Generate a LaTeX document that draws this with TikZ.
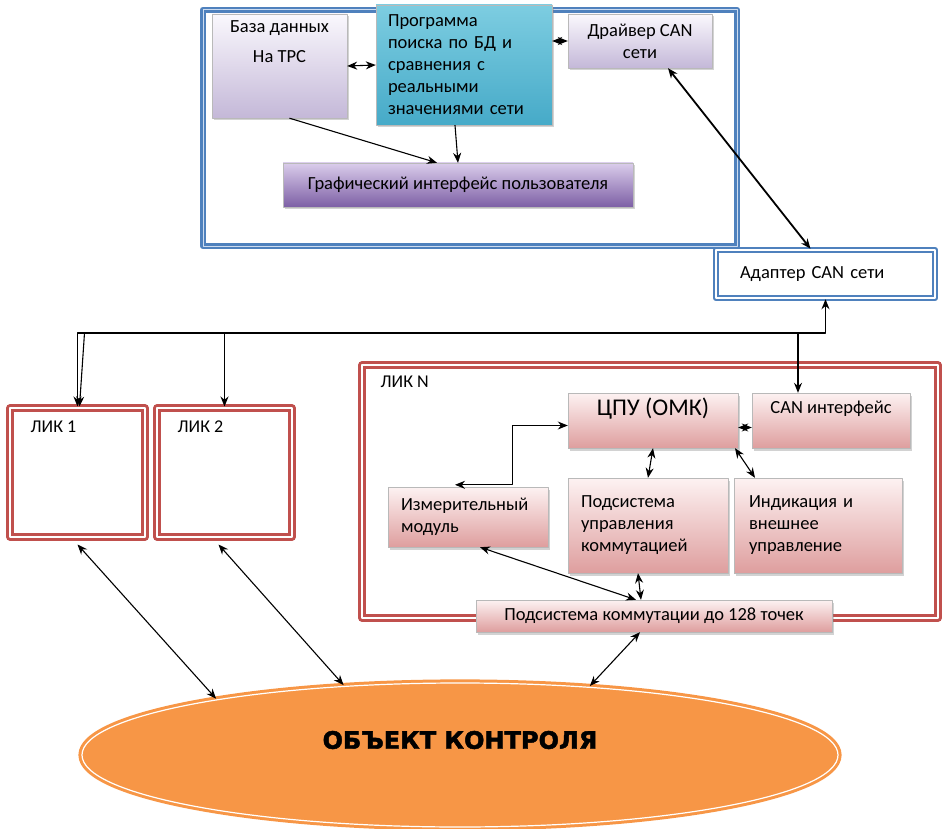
\documentclass[tikz,border=0pt]{standalone}
\usepackage{fontspec}
\setmainfont{Carlito}
\newfontfamily\objfont[BoldFeatures={FakeBold=2}]{DejaVu Sans}
\usetikzlibrary{shapes.geometric,shadows,arrows.meta}

\definecolor{framblue}{RGB}{79,129,189}
\definecolor{framlight}{RGB}{205,220,240}
\definecolor{likred}{RGB}{192,80,77}
\definecolor{lavtop}{RGB}{250,248,253}
\definecolor{lavbot}{RGB}{196,184,216}
\definecolor{tealtop}{RGB}{125,205,225}
\definecolor{tealbot}{RGB}{70,170,200}
\definecolor{purtop}{RGB}{218,205,235}
\definecolor{purbot}{RGB}{125,95,165}
\definecolor{pinktop}{RGB}{253,242,242}
\definecolor{pinkbot}{RGB}{222,158,158}
\definecolor{objorange}{RGB}{247,150,70}

\begin{document}
\begin{tikzpicture}[x=1pt, y=-1pt, >={Stealth[length=10pt, width=8pt]}, line join=round,
  boxtxt/.style={font=\fontsize{18.5}{22}\selectfont, inner sep=0pt},
  box/.style={boxtxt, draw=gray!55, thin, drop shadow={shadow xshift=1.5pt, shadow yshift=-2.5pt, opacity=0.35}},
  lavbox/.style={box, top color=lavtop, bottom color=lavbot},
  tealbox/.style={box, top color=tealtop, bottom color=tealbot},
  purbox/.style={box, top color=purtop, bottom color=purbot},
  pinkbox/.style={box, top color=pinktop, bottom color=pinkbot},
  blueframe/.style={draw=framblue, line width=2.8pt, double=framlight, double distance=1pt},
  adframe/.style={boxtxt, draw=framblue, line width=2.5pt, double=white, double distance=1.5pt, fill=white},
  likframe/.style={draw=likred, line width=3pt, double=white, double distance=1.3pt, fill=white},
  liktxt/.style={font=\fontsize{18}{20}\selectfont, inner sep=0pt},
  cputxt/.style={font=\fontsize{24}{28}\selectfont, inner sep=0pt},
  objshape/.style={ellipse, draw=objorange, line width=3pt, double=white, double distance=1.2pt, fill=objorange},
  objtxt/.style={font=\objfont\bfseries\fontsize{24}{28}\selectfont, inner sep=0pt},
  link/.style={line width=1.1pt}]
  \useasboundingbox (0,0) rectangle (945,829);

  % 1. Рамки: компьютер с ПО, адаптер и ЛИК
  \node[blueframe, minimum width=534pt, minimum height=236pt] (pc) at (470,128) {};
  \node[adframe, minimum width=219pt, minimum height=48pt, text width=171pt, align=left] (adapter) at (825.5,274) {Адаптер CAN сети};
  \node[likframe, minimum width=135pt, minimum height=129pt, label={[liktxt, anchor=north west, xshift=22pt, yshift=-14pt]north west:ЛИК 1}] (lik1) at (77.5,472.5) {};
  \node[likframe, minimum width=135pt, minimum height=129pt, label={[liktxt, anchor=north west, xshift=22pt, yshift=-14pt]north west:ЛИК 2}] (lik2) at (224.5,472.5) {};
  \node[likframe, minimum width=576pt, minimum height=253pt, label={[liktxt, anchor=north west, xshift=20pt, yshift=-12pt]north west:ЛИК N}] (likn) at (650,491.5) {};

  % 2. Блоки программы верхнего уровня
  \node[lavbox, minimum width=135pt, minimum height=104pt, label={[boxtxt, anchor=north, yshift=-7pt, align=center]north:База данных\\[8pt]На ТРС}] (db) at (279.5,66) {};
  \node[tealbox, minimum width=176pt, minimum height=120pt, text width=152pt, align=left] (prog) at (464,65) {Программа\\поиска по БД и\\сравнения с\\реальными\\значениями сети};
  \node[lavbox, minimum width=144pt, minimum height=54pt, align=center] (drv) at (640,41) {Драйвер CAN\\сети};
  \node[purbox, minimum width=350pt, minimum height=44pt] (gui) at (458,185) {Графический интерфейс пользователя};

  % 3. Блоки внутри ЛИК N
  \node[pinkbox, minimum width=170pt, minimum height=55pt, label={[cputxt, anchor=north, yshift=-5pt]north:ЦПУ (ОМК)}] (cpu) at (653,420.5) {};
  \node[pinkbox, minimum width=158pt, minimum height=55pt, label={[boxtxt, anchor=north, yshift=-8pt]north:CAN интерфейс}] (can) at (831,420.5) {};
  \node[pinkbox, minimum width=160pt, minimum height=60pt, text width=134pt, align=left] (meas) at (468,517) {Измерительный\\модуль};
  \node[pinkbox, minimum width=160pt, minimum height=95pt, text width=134pt, align=left] (ctrl) at (648,525.5) {Подсистема\\управления\\коммутацией};
  \node[pinkbox, minimum width=168pt, minimum height=95pt, text width=138pt, align=left] (ind) at (818,525.5) {Индикация и\\внешнее\\управление};
  \node[pinkbox, minimum width=356pt, minimum height=32pt] (comm) at (654,616) {Подсистема коммутации до 128 точек};

  % 4. Объект контроля
  \node[objshape, minimum width=756pt, minimum height=144pt, label={[objtxt, yshift=15pt]center:ОБЪЕКТ КОНТРОЛЯ}] (obj) at (460,755) {};

  % 5. Связи в компьютере
  \draw[<->, link] (db.east) -- (prog.west);
  \draw[<->, link] (drv.west) -- (drv.west -| prog.east);
  \draw[->, link] ([xshift=10pt]db.south) -- ([xshift=-21pt]gui.north);
  \draw[->, link] ([xshift=-9pt]prog.south) -- (gui.north);
  \draw[<->, line width=1.8pt] ([xshift=28pt]drv.south) -- ([xshift=-15pt]adapter.north);

  % 6. Шина CAN от адаптера к ЛИК
  \coordinate (bus) at (0,333);
  \draw[<->, link] (adapter.south) -- (adapter.south |- bus) -| (lik1.north);
  \draw[->, link] ([xshift=7pt]lik1.north |- bus) -- ([xshift=2pt]lik1.north);
  \draw[->, link] (lik2.north |- bus) -- (lik2.north);
  \draw[->, link] ([xshift=-33pt]can.north |- bus) -- ([xshift=-33pt]can.north);

  % 7. Связи внутри ЛИК N
  \draw[<->, link] ([yshift=-7pt]cpu.east) -- ([yshift=-7pt]can.west);
  \draw[<->, link] ([yshift=-5pt]cpu.west) -- ++(-55,0) |- ([xshift=-13pt, yshift=2pt]meas.north);
  \draw[<->, link] (cpu.south) -- (ctrl.north);
  \draw[<->, link] ([xshift=82pt]cpu.south) -- ([xshift=-63pt]ind.north);
  \draw[<->, link] ([xshift=12pt]meas.south) -- ([xshift=-18pt]comm.north);
  \draw[<->, link] ([xshift=-10pt]ctrl.south) -- ([xshift=-13pt]comm.north);

  % 8. Связи с объектом контроля
  \draw[<->, link] ([yshift=-6pt]lik1.south) -- (obj.167);
  \draw[<->, link] ([xshift=-6pt, yshift=-6pt]lik2.south) -- (obj.149);
  \draw[<->, link] ([xshift=-14pt]comm.south) -- (obj.28);
\end{tikzpicture}
\end{document}
